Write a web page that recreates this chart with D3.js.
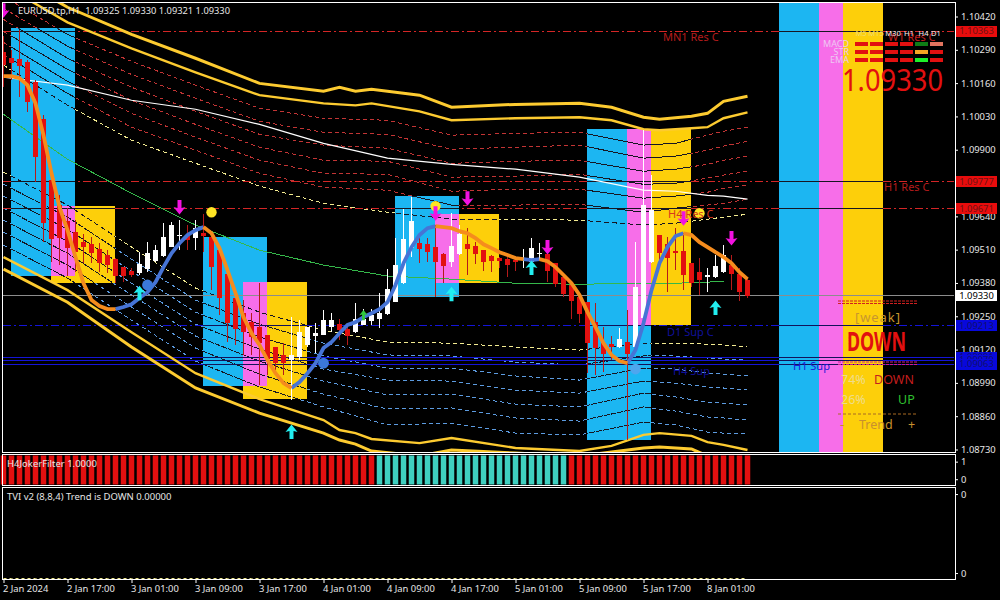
<!DOCTYPE html>
<html>
<head>
<meta charset="utf-8">
<script src="https://cdn.jsdelivr.net/npm/d3@7"></script>
<style>
  html, body { margin: 0; padding: 0; background: #000; overflow: hidden; }
  svg { display: block; font-family: "Noto Sans", sans-serif; }
  text { fill: #e6e6e6; }
</style>
</head>
<body>
<svg id="chart" width="1000" height="600"></svg>
<script>
var opens = [1.10280,1.10257,1.10253,1.10241,1.10163,1.10019,1.09781,1.09684,1.09621,1.09578,1.09539,1.09531,1.09512,1.09489,1.09473,1.09442,1.09426,1.09418,1.09434,1.09465,1.09485,1.09520,1.09563,1.09567,1.09555,1.09574,1.09559,1.09508,1.09414,1.09321,1.09262,1.09227,1.09208,1.09177,1.09130,1.09099,1.09079,1.09091,1.09138,1.09173,1.09177,1.09208,1.09219,1.09200,1.09188,1.09216,1.09231,1.09239,1.09258,1.09305,1.09379,1.09516,1.09535,1.09531,1.09520,1.09492,1.09461,1.09492,1.09531,1.09524,1.09508,1.09485,1.09477,1.09473,1.09469,1.09469,1.09461,1.09492,1.09492,1.09457,1.09403,1.09372,1.09325,1.09305,1.09227,1.09145,1.09141,1.09130,1.09149,1.09130,1.09243,1.09461,1.09567,1.09531,1.09504,1.09504,1.09457,1.09422,1.09403,1.09403,1.09422,1.09450,1.09414,1.09391];
var closes = [1.10230,1.10237,1.10226,1.10085,1.09871,1.09613,1.09551,1.09555,1.09516,1.09500,1.09520,1.09496,1.09457,1.09450,1.09407,1.09407,1.09411,1.09453,1.09496,1.09508,1.09559,1.09606,1.09567,1.09547,1.09594,1.09563,1.09442,1.09321,1.09223,1.09200,1.09188,1.09169,1.09145,1.09083,1.09067,1.09067,1.09099,1.09188,1.09208,1.09184,1.09235,1.09235,1.09196,1.09173,1.09239,1.09239,1.09254,1.09262,1.09356,1.09450,1.09551,1.09621,1.09512,1.09500,1.09461,1.09446,1.09524,1.09570,1.09512,1.09492,1.09461,1.09465,1.09465,1.09450,1.09461,1.09473,1.09516,1.09496,1.09426,1.09375,1.09336,1.09309,1.09258,1.09145,1.09126,1.09102,1.09130,1.09161,1.09102,1.09364,1.09684,1.09664,1.09496,1.09477,1.09496,1.09411,1.09379,1.09391,1.09411,1.09446,1.09489,1.09414,1.09344,1.09330];
var highs = [1.10343,1.10288,1.10366,1.10249,1.10171,1.10035,1.09820,1.09723,1.09672,1.09625,1.09570,1.09559,1.09535,1.09508,1.09477,1.09442,1.09438,1.09500,1.09539,1.09528,1.09613,1.09617,1.09625,1.09606,1.09625,1.09648,1.09567,1.09508,1.09414,1.09321,1.09313,1.09262,1.09379,1.09177,1.09130,1.09145,1.09247,1.09235,1.09208,1.09223,1.09274,1.09262,1.09239,1.09219,1.09301,1.09278,1.09278,1.09340,1.09434,1.09555,1.09668,1.09715,1.09574,1.09555,1.09606,1.09496,1.09652,1.09606,1.09594,1.09539,1.09508,1.09489,1.09481,1.09481,1.09477,1.09512,1.09555,1.09535,1.09492,1.09457,1.09403,1.09372,1.09325,1.09305,1.09301,1.09208,1.09173,1.09204,1.09274,1.09539,1.09976,1.09800,1.09567,1.09559,1.09594,1.09574,1.09457,1.09477,1.09438,1.09489,1.09528,1.09489,1.09438,1.09403];
var lows = [1.10144,1.10171,1.10105,1.10046,1.09773,1.09539,1.09461,1.09450,1.09407,1.09422,1.09457,1.09457,1.09422,1.09418,1.09379,1.09383,1.09403,1.09411,1.09422,1.09461,1.09481,1.09520,1.09508,1.09508,1.09508,1.09500,1.09352,1.09254,1.09149,1.09138,1.09099,1.09099,1.08982,1.09021,1.09040,1.09021,1.08923,1.09079,1.09130,1.09106,1.09177,1.09188,1.09157,1.09138,1.09184,1.09216,1.09216,1.09204,1.09254,1.09305,1.09375,1.09481,1.09457,1.09461,1.09325,1.09379,1.09442,1.09489,1.09411,1.09453,1.09426,1.09422,1.09438,1.09403,1.09426,1.09438,1.09457,1.09469,1.09383,1.09364,1.09325,1.09239,1.09223,1.09028,1.09021,1.09032,1.09079,1.09126,1.08767,1.09106,1.09235,1.09457,1.09461,1.09344,1.09430,1.09352,1.09364,1.09332,1.09344,1.09399,1.09418,1.09352,1.09309,1.09321];

var hma = [1.10187,1.10187,1.10179,1.10152,1.10081,1.09957,1.09808,1.09676,1.09586,1.09481,1.09379,1.09313,1.09290,1.09278,1.09278,1.09286,1.09297,1.09321,1.09344,1.09383,1.09442,1.09496,1.09535,1.09567,1.09586,1.09598,1.09574,1.09516,1.09430,1.09340,1.09247,1.09184,1.09138,1.09079,1.09028,1.08989,1.08970,1.08993,1.09028,1.09067,1.09126,1.09149,1.09184,1.09216,1.09227,1.09247,1.09262,1.09278,1.09305,1.09372,1.09457,1.09520,1.09567,1.09594,1.09602,1.09598,1.09594,1.09582,1.09574,1.09555,1.09531,1.09516,1.09500,1.09489,1.09477,1.09473,1.09469,1.09473,1.09465,1.09442,1.09411,1.09379,1.09333,1.09266,1.09208,1.09145,1.09099,1.09075,1.09067,1.09118,1.09223,1.09352,1.09457,1.09520,1.09563,1.09574,1.09567,1.09539,1.09520,1.09500,1.09481,1.09457,1.09422,1.09395];
var hmaDownRuns = [[0,14],[25,36],[54,65],[67,78],[85,93]];
var hmaUpRuns = [[14,25],[36,54],[65,67],[78,85]];

var bandBars = [0,8,16,24,32,40,48,56,64,72,80,84,88,90,93];
var red1 = [1.10499,1.10350,1.10245,1.10152,1.10062,1.10023,1.10015,1.09957,1.09964,1.09968,1.09918,1.09925,1.09957,1.09972,1.09988];
var red2 = [1.10452,1.10304,1.10194,1.10101,1.10011,1.09968,1.09960,1.09902,1.09910,1.09918,1.09867,1.09875,1.09898,1.09914,1.09933];
var red3 = [1.10409,1.10257,1.10144,1.10050,1.09960,1.09918,1.09906,1.09847,1.09855,1.09859,1.09816,1.09824,1.09843,1.09859,1.09875];
var red4 = [1.10362,1.10214,1.10093,1.09999,1.09910,1.09859,1.09855,1.09793,1.09797,1.09804,1.09765,1.09769,1.09789,1.09801,1.09816];
var red5 = [1.10319,1.10167,1.10042,1.09949,1.09859,1.09808,1.09804,1.09738,1.09746,1.09746,1.09711,1.09719,1.09734,1.09750,1.09762];
var red6 = [1.10272,1.10120,1.09988,1.09898,1.09808,1.09754,1.09742,1.09684,1.09684,1.09687,1.09656,1.09672,1.09684,1.09691,1.09707];
var upperMid = [1.10230,1.10074,1.09937,1.09847,1.09758,1.09691,1.09656,1.09629,1.09629,1.09625,1.09606,1.09613,1.09629,1.09637,1.09648];
var lowerMid = [1.09812,1.09684,1.09520,1.09360,1.09266,1.09196,1.09149,1.09145,1.09130,1.09118,1.09145,1.09145,1.09141,1.09138,1.09130];
var blue1 = [1.09765,1.09637,1.09473,1.09313,1.09219,1.09145,1.09099,1.09095,1.09071,1.09060,1.09095,1.09095,1.09087,1.09083,1.09079];
var blue2 = [1.09719,1.09590,1.09426,1.09266,1.09169,1.09095,1.09048,1.09048,1.09017,1.09001,1.09048,1.09044,1.09028,1.09024,1.09017];
var blue3 = [1.09672,1.09543,1.09379,1.09219,1.09122,1.09044,1.09001,1.08997,1.08962,1.08950,1.08997,1.08989,1.08974,1.08970,1.08962];
var blue4 = [1.09625,1.09496,1.09333,1.09173,1.09075,1.08997,1.08943,1.08946,1.08907,1.08896,1.08950,1.08935,1.08915,1.08911,1.08904];
var blue5 = [1.09578,1.09450,1.09286,1.09126,1.09024,1.08946,1.08888,1.08892,1.08853,1.08841,1.08896,1.08880,1.08857,1.08853,1.08845];
var blue6 = [1.09528,1.09399,1.09235,1.09075,1.08974,1.08896,1.08826,1.08833,1.08794,1.08787,1.08837,1.08826,1.08798,1.08794,1.08790];
var whiteMa = [1.10183,1.10152,1.10093,1.10058,1.09999,1.09925,1.09867,1.09843,1.09824,1.09793,1.09742,1.09738,1.09722,1.09719,1.09707];
var greenMa = [1.10038,1.09863,1.09730,1.09606,1.09508,1.09450,1.09407,1.09395,1.09379,1.09375,1.09379,1.09379,1.09383,1.09387];

// gold channel wiggles more, so it gets its own bars
var goldBars = [0,8,16,24,32,40,42,44,46,52,56,64,72,76,80,82,86,88,90,93];
var upperOuter = [1.10600,1.10456,1.10350,1.10257,1.10159,1.10128,1.10144,1.10128,1.10136,1.10113,1.10066,1.10077,1.10081,1.10066,1.10027,1.10019,1.10031,1.10042,1.10089,1.10109];
var upperInner = [1.10542,1.10397,1.10296,1.10202,1.10113,1.10081,1.10077,1.10073,1.10081,1.10050,1.10015,1.10023,1.10027,1.10015,1.09980,1.09976,1.09984,1.09988,1.10023,1.10046];
var lowerInner = [1.09481,1.09352,1.09188,1.09028,1.08927,1.08845,1.08806,1.08794,1.08771,1.08755,1.08775,1.08736,1.08724,1.08744,1.08787,1.08794,1.08783,1.08759,1.08748,1.08728];
var lowerOuter = [1.09434,1.09305,1.09130,1.08970,1.08872,1.08794,1.08767,1.08751,1.08724,1.08705,1.08728,1.08716,1.08705,1.08720,1.08736,1.08740,1.08732,1.08705,1.08697,1.08681];

// zones: first bar, last bar, top price, bottom price
var blueZones = [[1,9,1.10374,1.09407],[25,33,1.09559,1.08978],[49,57,1.09719,1.09325],[73,81,1.09980,1.08767],[97,105,1.10600,1.08600]];
var goldZones = [[6,14,1.09680,1.09379],[30,38,1.09383,1.08927],[54,62,1.09648,1.09379],[78,86,1.09980,1.09216],[102,110,1.10600,1.08600]];

var resLevels = [1.10363,1.09777,1.09671];
var supLevels = [1.09213,1.09091,1.09079,1.09063];
var bidPrice = 1.09330;

var sellBars = [0,22,54,58,68,85,91];
var sellPrices = [1.10444,1.09676,1.09652,1.09711,1.09520,1.09633,1.09555];
var buyBars = [17,36,56,66,89];
var buyPrices = [1.09340,1.08798,1.09336,1.09438,1.09282];
var yellowDotBars = [26,54,87];
var yellowDotPrices = [1.09656,1.09680,1.09652];
var blueDotBars = [18,40,79];
var blueDotPrices = [1.09372,1.09067,1.09044];

var filterValues = [1,1,1,1,1,1,1,1,1,1,1,1,1,1,1,1,1,1,1,1,1,1,1,1,1,1,1,1,1,1,1,1,1,1,1,1,1,1,1,1,1,1,1,1,1,1,1,0,0,0,0,0,0,0,0,0,0,0,0,0,0,0,0,0,0,0,0,0,0,0,0,1,1,1,1,1,1,1,1,1,1,1,1,1,1,1,1,1,1,1,1,1,1,1];
var tviValues = [0,0,0,0,0,0,0,0,0,0,0,0,0,0,0,0,0,0,0,0,0,0,0,0,0,0,0,0,0,0,0,0,0,0,0,0,0,0,0,0,0,0,0,0,0,0,0,0,0,0,0,0,0,0,0,0,0,0,0,0,0,0,0,0,0,0,0,0,0,0,0,0,0,0,0,0,0,0,0,0,0,0,0,0,0,0,0,0,0,0,0,0,0,0];

var priceTicks = [1.10420,1.10290,1.10160,1.10030,1.09900,1.09770,1.09640,1.09510,1.09380,1.09250,1.09120,1.08990,1.08860,1.08730];
var filterTicks = [1,0];
var tviTicks = [0.00000464,0.00000030];
var timeBars = [0,8,16,24,32,40,48,56,64,72,80,88];
var timeLabels = ["2 Jan 2024","2 Jan 17:00","3 Jan 01:00","3 Jan 09:00","3 Jan 17:00","4 Jan 01:00","4 Jan 09:00","4 Jan 17:00","5 Jan 01:00","5 Jan 09:00","5 Jan 17:00","8 Jan 01:00"];

var panelColumns = ["M5","M15","M30","H1","H4","D1"];
var panelRows = ["MACD","STR","EMA"];
var panelStates = [
  ["down","down","down","down","upDark","downSoft"],
  ["down","down","down","down","flat","down"],
  ["down","down","down","down","up","down"]
];

var RED = "#e21010", GOLD = "#fdcb30";
var panelFill = {down: RED, upDark: "#0f7d16", downSoft: "#e2745f", flat: "#f5a623", up: "#1df02a"};

var svg = d3.select("#chart");
var x = d3.scaleLinear().domain([0,94]).range([3.5,755.5]);
var y = d3.scaleLinear().domain([1.08730,1.10420]).range([449.5,16.5]);
var yFilter = d3.scaleLinear().domain([-0.3,1.35]).range([484.5,455.5]);
var yTvi = d3.scaleLinear().domain([0,0.000005]).range([578.5,487.5]);

var defs = svg.append("defs");
defs.append("clipPath").attr("id","mainClip").append("rect")
  .attr("x",3).attr("y",3).attr("width",951).attr("height",449);
var zoneClip = defs.append("clipPath").attr("id","zoneClip");

var main = svg.append("g").attr("clip-path","url(#mainClip)");

var bandLine = d3.line().x((d,i) => x(bandBars[i])).y(d => y(d));
var goldLine = d3.line().x((d,i) => x(goldBars[i])).y(d => y(d));

function drawGuides(g, dark) {
  g.attr("shape-rendering","crispEdges");
  [red1,red2,red3,red4,red5,red6].forEach(s => g.append("path").attr("d",bandLine(s)).attr("fill","none")
    .attr("stroke", dark ? "#161622" : "#c23434").attr("stroke-dasharray", dark ? null : "4,3"));
  [upperMid,lowerMid].forEach(s => g.append("path").attr("d",bandLine(s)).attr("fill","none")
    .attr("stroke", dark ? "#161622" : "#f2ea90").attr("stroke-dasharray", dark ? "5,3" : "4,3"));
  [blue1,blue2,blue3,blue4,blue5,blue6].forEach(s => g.append("path").attr("d",bandLine(s)).attr("fill","none")
    .attr("stroke", dark ? "#161622" : "#5c9be0").attr("stroke-dasharray", dark ? "6,1" : "4,3"));
  resLevels.forEach(p => g.append("line").attr("x1",3).attr("x2",954).attr("y1",y(p)).attr("y2",y(p))
    .attr("stroke", dark ? "#161622" : "#d42626").attr("stroke-dasharray", dark ? null : "8,3,2,3"));
  supLevels.forEach((p,i) => g.append("line").attr("x1",3).attr("x2",954).attr("y1",y(p)).attr("y2",y(p))
    .attr("stroke", dark ? "#12125a" : "#1414d8").attr("stroke-dasharray", i == 0 && !dark ? "8,3,2,3" : null));
}

drawGuides(main.append("g"), false);

// colour zones, pink where a blue and a gold zone overlap
var zoneLayer = main.append("g").attr("shape-rendering","crispEdges");
function zoneRect(g, z, fill) {
  g.append("rect").attr("x",x(z[0])-0.5).attr("width",x(z[1])-x(z[0]))
    .attr("y",y(z[2])).attr("height",y(z[3])-y(z[2])).attr("fill",fill);
}
goldZones.forEach(z => zoneRect(zoneLayer, z, "#fdcf0a"));
blueZones.forEach(z => zoneRect(zoneLayer, z, "#1cb6f2"));
blueZones.forEach((z,i) => {
  var g = goldZones[i];
  zoneRect(zoneLayer, [g[0], z[1], Math.min(z[2],g[2]), Math.max(z[3],g[3])], "#f76ee9");
});
blueZones.concat(goldZones).forEach(z => zoneRect(zoneClip, z, "#000"));

drawGuides(main.append("g").attr("clip-path","url(#zoneClip)"), true);

// averages and the outer channel
main.append("path").attr("d",bandLine(greenMa)).attr("fill","none").attr("stroke","#35b84a").attr("shape-rendering","crispEdges");
main.append("path").attr("d",bandLine(whiteMa)).attr("fill","none").attr("stroke","#ffffff").attr("stroke-width",1.2);
main.append("line").attr("x1",3).attr("x2",954).attr("y1",y(bidPrice)).attr("y2",y(bidPrice)).attr("stroke","#8c8c8c").attr("shape-rendering","crispEdges");
[[upperOuter,3],[upperInner,2.4],[lowerInner,2.4],[lowerOuter,3]].forEach(b =>
  main.append("path").attr("d",goldLine(b[0])).attr("fill","none").attr("stroke",GOLD).attr("stroke-width",b[1]));

// candles
var candles = main.append("g").attr("shape-rendering","crispEdges");
opens.forEach((o,i) => {
  var c = closes[i], col = c >= o ? "#ffffff" : RED, top = y(Math.max(o,c));
  candles.append("line").attr("x1",x(i)).attr("x2",x(i)).attr("y1",y(highs[i])).attr("y2",y(lows[i]))
    .attr("stroke", c >= o ? "#ffffff" : "#b51a1a");
  candles.append("rect").attr("x",x(i)-2.5).attr("width",5).attr("y",top)
    .attr("height",Math.max(1,y(Math.min(o,c))-top)).attr("fill",col);
});

// hull line, orange falling and blue rising
var hmaLine = d3.line().x(d => x(d)).y(d => y(hma[d]));
function hmaRun(r, col) {
  main.append("path").attr("d",hmaLine(d3.range(r[0],r[1]+1))).attr("fill","none")
    .attr("stroke",col).attr("stroke-width",3.8);
}
hmaUpRuns.forEach(r => hmaRun(r,"#4674d6"));
hmaDownRuns.forEach(r => hmaRun(r,"#f58c1d"));

// markers
yellowDotBars.forEach((b,i) => main.append("circle").attr("cx",x(b)).attr("cy",y(yellowDotPrices[i])).attr("r",5.2).attr("fill","#ffe524"));
blueDotBars.forEach((b,i) => main.append("circle").attr("cx",x(b)).attr("cy",y(blueDotPrices[i])).attr("r",5.4).attr("fill", b == 79 ? "#4ea6ee" : "#3b78da"));
var arrowShape = "M0,-7.5L6,0L2,-1L2,7L-2,7L-2,-1L-6,0Z";
buyBars.forEach((b,i) => main.append("path").attr("d",arrowShape)
  .attr("transform","translate("+x(b)+","+y(buyPrices[i])+")").attr("fill","#22eef0"));
sellBars.forEach((b,i) => main.append("path").attr("d",arrowShape)
  .attr("transform","translate("+x(b)+","+y(sellPrices[i])+") scale(1,-1)").attr("fill","#f212e0"));
main.append("path").attr("d",arrowShape).attr("transform","translate("+x(45)+","+y(1.09254)+") scale(0.7)").attr("fill","#31c93e");

// level captions
function note(px, py, txt, col, size, extra) {
  var t = main.append("text").attr("x",px).attr("y",py).text(txt).style("fill",col).attr("font-size",size||11);
  if(extra) { extra(t); }
  return t;
}
note(663,41,"MN1 Res C","#b51c1c");
note(888,41,"W1 Res C","#c41e1e");
note(884,191,"H1 Res C","#b51c1c");
note(668,218,"H4 Res C","#d63a1c");
note(667,336,"D1 Sup C","#10109c");
note(673,375,"H4 Sup","#10109c");
note(793,370,"H1 Sup","#1a1ad8");

// signal panel in the top right corner
var colX = [855,870,885,900,915,930];
var headX = [861,876,893,909,923.5,936];
panelColumns.forEach((c,i) => main.append("text").attr("x",headX[i]).attr("y",36).attr("text-anchor","middle")
  .attr("font-size",7.6).style("fill", i < 2 ? "#f2dc70" : "#f0f0f0").text(c));
panelRows.forEach((r,j) => {
  main.append("text").attr("x",849).attr("y",47+j*8).attr("text-anchor","end").attr("font-size",9)
    .style("fill","#eec8f2").text(r);
  panelStates[j].forEach((s,i) => main.append("rect").attr("x",colX[i]).attr("y",42+j*8).attr("width",13).attr("height",4)
    .attr("fill",panelFill[s]).attr("shape-rendering","crispEdges"));
});
note(842,91,"1.09330",RED,30,t => t.attr("textLength",101).attr("lengthAdjust","spacingAndGlyphs"));

// trend panel
[301,303.5,362,364.5].forEach(py => main.append("line").attr("x1",838).attr("x2",917).attr("y1",py).attr("y2",py)
  .attr("stroke", py < 320 ? "#d01f1f" : "#d01f8a").attr("stroke-dasharray","3,1"));
main.append("line").attr("x1",838).attr("x2",917).attr("y1",414).attr("y2",414).attr("stroke","#a86a22").attr("stroke-dasharray","3,2");
note(855,322,"[weak]","#c8962e",13,t => t.attr("textLength",45));
note(847,351,"DOWN",RED,26,t => t.attr("font-weight","bold").attr("textLength",59).attr("lengthAdjust","spacingAndGlyphs"));
note(841,384,"74%","#efdc8c",12.5);
note(874,384,"DOWN","#c41e1e",12.5);
note(841,404,"26%","#efdc8c",12.5);
note(898,404,"UP","#2fc02f",12.5);
note(840,429,"-","#c8902e",12.5);
note(859,429,"Trend","#c8902e",12.5);
note(908,429,"+","#c8902e",12.5);

// filter pane
var filterG = svg.append("g");
filterValues.forEach((v,i) => filterG.append("rect").attr("x",x(i)-2.75).attr("width",5.5)
  .attr("y",yFilter.range()[1]).attr("height",yFilter.range()[0]-yFilter.range()[1])
  .attr("fill", v ? "#e21010" : "#3fd0c0"));

// tvi pane
svg.append("path").attr("d",d3.line().x((d,i) => x(i)).y(d => yTvi(d))(tviValues)).attr("fill","none")
  .attr("stroke","#ece58a").attr("stroke-dasharray","3,3");

// pane frames
[[2.5,2.5,452.5-2.5],[2.5,454.5,485-454.5],[2.5,487.5,579-487.5]].forEach(f =>
  svg.append("rect").attr("x",f[0]).attr("y",f[1]).attr("width",952.5).attr("height",f[2])
    .attr("fill","none").attr("stroke","#ffffff").attr("shape-rendering","crispEdges"));

// right axes
function styleAxis(g) {
  g.select(".domain").remove();
  g.selectAll("line").attr("stroke","#ffffff");
  g.selectAll("text").attr("font-size",9.4).attr("font-family",'"Noto Sans", sans-serif').attr("x",6).style("fill","#e6e6e6");
}
svg.append("g").attr("transform","translate(955,0)")
  .call(d3.axisRight(y).tickValues(priceTicks).tickSize(3).tickFormat(d3.format(".5f"))).call(styleAxis);
svg.append("g").attr("transform","translate(955,0)")
  .call(d3.axisRight(yFilter).tickValues(filterTicks).tickSize(3).tickFormat(d3.format(".0f"))).call(styleAxis);
svg.append("g").attr("transform","translate(955,0)")
  .call(d3.axisRight(yTvi).tickValues(tviTicks).tickSize(3).tickFormat(d3.format(".0f"))).call(styleAxis);

// price tags
function tag(p, bg, fg) {
  var g = svg.append("g").attr("transform","translate(0,"+y(p)+")");
  g.append("rect").attr("x",956).attr("y",-5.5).attr("width",41).attr("height",11).attr("fill",bg).attr("shape-rendering","crispEdges");
  g.append("text").attr("x",976.5).attr("y",3.3).attr("text-anchor","middle").attr("font-size",9.4).style("fill",fg).text(d3.format(".5f")(p));
}
resLevels.forEach(p => tag(p,"#e80c0c","#6e1212"));
supLevels.forEach(p => tag(p,"#0808dc","#10106e"));
tag(bidPrice,"#ffffff","#000000");

// time axis
var timeAxis = svg.append("g").attr("transform","translate(0,579)")
  .call(d3.axisBottom(x).tickValues(timeBars).tickSize(4).tickFormat((d,i) => timeLabels[i]));
timeAxis.select(".domain").remove();
timeAxis.selectAll("line").attr("stroke","#ffffff");
timeAxis.selectAll("text").attr("text-anchor","start").attr("x",-1).attr("y",6).attr("dy","0.71em")
  .attr("font-size",9.4).attr("font-family",'"Noto Sans", sans-serif').style("fill","#e6e6e6");

// captions on top of the panes
svg.append("text").attr("x",18).attr("y",14).attr("font-size",9.3).text("EURUSD.tp,H1  1.09325 1.09330 1.09321 1.09330").attr("xml:space","preserve");
svg.append("text").attr("x",7).attr("y",467).attr("font-size",9.5).text("H4JokerFilter 1.0000");
svg.append("text").attr("x",7).attr("y",500).attr("font-size",9.5).text("TVI v2 (8,8,4) Trend is DOWN 0.00000");
</script>
</body>
</html>
